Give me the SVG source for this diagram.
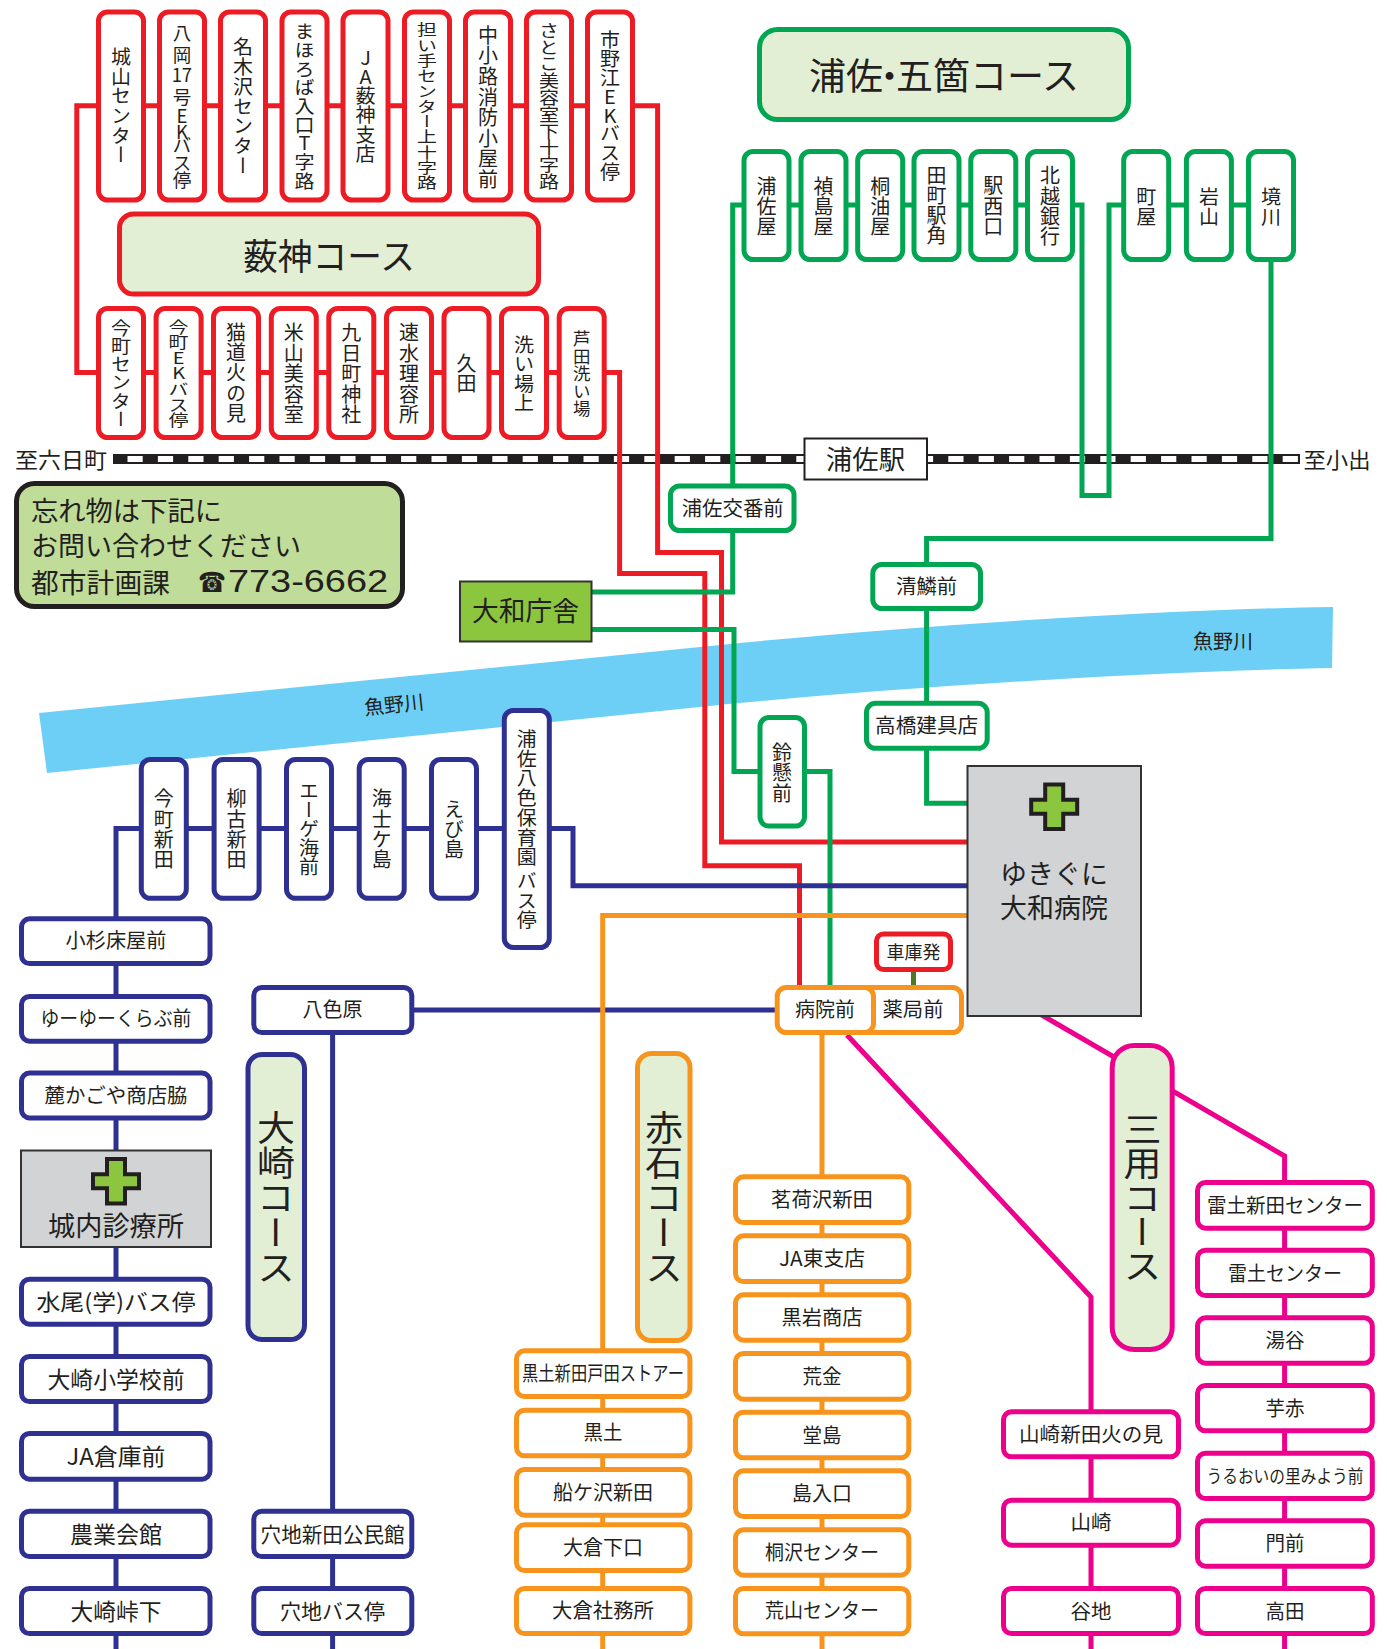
<svg xmlns="http://www.w3.org/2000/svg" width="1387" height="1649" viewBox="0 0 1387 1649">
<style>
text{font-family:"Noto Sans CJK JP","Noto Sans CJK SC",sans-serif;fill:#231f20;text-anchor:middle;dominant-baseline:central;font-size:20px;transform:translateY(-1.5px)}
.v{writing-mode:vertical-rl;text-orientation:upright;font-size:20px;transform:none}
.t{font-size:36px}
.c{fill:none;stroke-width:5;stroke-linejoin:miter}
.b{fill:#fff;stroke-width:5}
.r{stroke:#ed1c24}.g{stroke:#00a651}.n{stroke:#2e3192}.o{stroke:#f7941d}.m{stroke:#ec008c}
.h{fill:#e2efd4;stroke-width:5}
.p{fill:#d1d3d4;stroke:#333;stroke-width:2}
.x{fill:#8cc63f;stroke:#231f20;stroke-width:4}
</style>
<g id="river"><path d="M39 713L680 649C860 630 1131 610 1333 607L1332 668C1131 672 860 690 680 709L47 773Z" fill="#6dcff6"/>
<g transform="rotate(-6 394 705)"><text x="394" y="705" textLength="60" lengthAdjust="spacingAndGlyphs">魚野川</text></g>
<text x="1223" y="642" textLength="60" lengthAdjust="spacingAndGlyphs">魚野川</text></g>
<g id="railway"><line x1="113" y1="459" x2="1300" y2="459" stroke="#231f20" stroke-width="10"/><line x1="127.5" y1="459" x2="1299" y2="459" stroke="#fff" stroke-width="6" stroke-dasharray="15.2 15.2"/>
<text x="61" y="459" style="font-size:22px" textLength="92" lengthAdjust="spacingAndGlyphs">至六日町</text>
<text x="1337" y="459" style="font-size:22px" textLength="67" lengthAdjust="spacingAndGlyphs">至小出</text></g>
<g id="connectors">
<path class="c r" d="M100 372.6H76.8V105.7H657.6V552.6H721.5V842H967"/>
<path class="c r" d="M76.8 372.6H619.6V573.5H704.8V865.7H799.5V985"/>
<path class="c g" d="M1271 205H1109V495.5H1082V205H732.7V592H592"/>
<path class="c g" d="M592 629.4H734V771.4H830V985"/>
<path class="c g" d="M1271 262V538.4H926.6V803.3H967"/>
<path class="c n" d="M116 1649V828.6H573V885.7H967"/>
<path class="c n" d="M414 1010H775"/>
<path class="c n" d="M332.6 1035V1649"/>
<path class="c o" d="M967 915.5H602.7V1649"/>
<path class="c o" d="M822 1035V1649"/>
<path class="c m" d="M1040 1014L1284.6 1156V1649"/>
<path class="c m" d="M847 1035L1091 1297V1649"/>
<path class="c" stroke="#4f7a1f" d="M913.5 970V985"/>
</g>
<g id="st-jo"><rect class="b r" x="98.5" y="12" width="45" height="188" rx="9"/><text class="v" x="121" y="105.7" textLength="118" lengthAdjust="spacingAndGlyphs">城山センター</text></g>
<g id="st-yaoka"><rect class="b r" x="159.5" y="12" width="45" height="188" rx="9"/><text x="182 182 177 187 182 182 182 182 182 182" y="33 55 75 75 97 116 132 145 163 180" style="font-size:18.5px">八岡17号EKバス停</text></g>
<g id="st-nagi"><rect class="b r" x="220.5" y="12" width="45" height="188" rx="9"/><text class="v" x="243" y="106" textLength="139" lengthAdjust="spacingAndGlyphs">名木沢センター</text></g>
<g id="st-maho"><rect class="b r" x="282" y="12" width="45" height="188" rx="9"/><text class="v" x="304.5" y="106" textLength="168" lengthAdjust="spacingAndGlyphs">まほろば入口T字路</text></g>
<g id="st-ja"><rect class="b r" x="343" y="12" width="45" height="188" rx="9"/><text class="v" x="365.5" y="105.5" textLength="115" lengthAdjust="spacingAndGlyphs">JA薮神支店</text></g>
<g id="st-nin"><rect class="b r" x="404.5" y="12" width="45" height="188" rx="9"/><text class="v" x="427" y="106" textLength="168" lengthAdjust="spacingAndGlyphs">担い手センター上十字路</text></g>
<g id="st-naka"><rect class="b r" x="465.5" y="12" width="45" height="188" rx="9"/><text class="v" x="488" y="107" textLength="165" lengthAdjust="spacingAndGlyphs">中小路消防小屋前</text></g>
<g id="st-sato"><rect class="b r" x="526.5" y="12" width="45" height="188" rx="9"/><text class="v" x="549" y="106" textLength="168" lengthAdjust="spacingAndGlyphs">さとこ美容室下十字路</text></g>
<g id="st-ichi"><rect class="b r" x="587.5" y="12" width="45" height="188" rx="9"/><text class="v" x="610" y="106" textLength="151" lengthAdjust="spacingAndGlyphs">市野江EKバス停</text></g>
<g id="title-yabukami"><rect class="h r" x="119.5" y="214" width="419" height="80" rx="14"/><text class="t" x="329" y="255" textLength="172" lengthAdjust="spacingAndGlyphs">薮神コース</text></g>
<g id="st-ima1"><rect class="b r" x="98.5" y="308.5" width="45" height="129" rx="9"/><text class="v" x="121" y="373.5" textLength="109" lengthAdjust="spacingAndGlyphs">今町センター</text></g>
<g id="st-ima2"><rect class="b r" x="156.1" y="308.5" width="45" height="129" rx="9"/><text class="v" x="178.6" y="373.5" textLength="109" lengthAdjust="spacingAndGlyphs">今町EKバス停</text></g>
<g id="st-neko"><rect class="b r" x="213.5" y="308.5" width="45" height="129" rx="9"/><text class="v" x="236" y="372.7" textLength="101" lengthAdjust="spacingAndGlyphs">猫道火の見</text></g>
<g id="st-yone"><rect class="b r" x="271.3" y="308.5" width="45" height="129" rx="9"/><text class="v" x="293.8" y="373.5" textLength="102" lengthAdjust="spacingAndGlyphs">米山美容室</text></g>
<g id="st-kokono"><rect class="b r" x="328.8" y="308.5" width="45" height="129" rx="9"/><text class="v" x="351.3" y="373.5" textLength="102" lengthAdjust="spacingAndGlyphs">九日町神社</text></g>
<g id="st-haya"><rect class="b r" x="386.5" y="308.5" width="45" height="129" rx="9"/><text class="v" x="409" y="373.5" textLength="102" lengthAdjust="spacingAndGlyphs">速水理容所</text></g>
<g id="st-kuta"><rect class="b r" x="444" y="308.5" width="45" height="129" rx="9"/><text class="v" x="466.5" y="373" textLength="40" lengthAdjust="spacingAndGlyphs">久田</text></g>
<g id="st-arai"><rect class="b r" x="501.5" y="308.5" width="45" height="129" rx="9"/><text class="v" x="524" y="373.7" textLength="77" lengthAdjust="spacingAndGlyphs">洗い場上</text></g>
<g id="st-ashi"><rect class="b r" x="559.2" y="308.5" width="45" height="129" rx="9"/><text class="v" x="581.7" y="373.5" style="font-size:17.5px" textLength="87" lengthAdjust="spacingAndGlyphs">芦田洗い場</text></g>
<g id="notice"><rect x="16.5" y="483.5" width="386" height="123" rx="18" fill="#bfdc98" stroke="#231f20" stroke-width="5"/>
<text x="126.5" y="511" style="font-size:27px" textLength="191" lengthAdjust="spacingAndGlyphs">忘れ物は下記に</text>
<text x="166" y="545.5" style="font-size:27px" textLength="270" lengthAdjust="spacingAndGlyphs">お問い合わせください</text>
<text x="100.5" y="582.5" style="font-size:27px" textLength="139" lengthAdjust="spacingAndGlyphs">都市計画課</text>
<text x="212" y="584" style="font-size:28px;font-family:'DejaVu Sans',sans-serif" textLength="28" lengthAdjust="spacingAndGlyphs">☎</text>
<text x="308" y="582.5" style="font-size:31px;font-family:'Liberation Sans',sans-serif" textLength="160" lengthAdjust="spacingAndGlyphs">773-6662</text></g>
<g id="station"><rect x="804.5" y="438.5" width="122.5" height="41" fill="#fff" stroke="#231f20" stroke-width="2"/><text x="865.5" y="458.5" style="font-size:26px" textLength="79" lengthAdjust="spacingAndGlyphs">浦佐駅</text></g>
<g id="yamato-office"><rect x="460" y="581.5" width="131.5" height="60" fill="#8cc63f" stroke="#333" stroke-width="2"/><text x="525.5" y="611" style="font-size:27px" textLength="107" lengthAdjust="spacingAndGlyphs">大和庁舎</text></g>
<g id="title-urasa"><rect class="h g" x="759.5" y="29.5" width="369" height="90" rx="18"/><text class="t" x="944" y="75.5" style="font-size:37px">浦<tspan style="letter-spacing:-12px">佐・</tspan>五箇コース</text></g>
<g id="st-u1"><rect class="b g" x="744" y="151.5" width="45" height="108" rx="9"/><text class="v" x="766.6" y="206.3" textLength="61" lengthAdjust="spacingAndGlyphs">浦佐屋</text></g>
<g id="st-u2"><rect class="b g" x="801" y="151.5" width="45" height="108" rx="9"/><text class="v" x="823.4" y="206.3" textLength="61" lengthAdjust="spacingAndGlyphs">禎島屋</text></g>
<g id="st-u3"><rect class="b g" x="857.7" y="151.5" width="45" height="108" rx="9"/><text class="v" x="880.2" y="206.3" textLength="61" lengthAdjust="spacingAndGlyphs">桐油屋</text></g>
<g id="st-u4"><rect class="b g" x="914" y="151.5" width="45" height="108" rx="9"/><text class="v" x="936.5" y="205.3" textLength="81" lengthAdjust="spacingAndGlyphs">田町駅角</text></g>
<g id="st-u5"><rect class="b g" x="970.8" y="151.5" width="45" height="108" rx="9"/><text class="v" x="993.3" y="206" textLength="61" lengthAdjust="spacingAndGlyphs">駅西口</text></g>
<g id="st-u6"><rect class="b g" x="1027.5" y="151.5" width="45" height="108" rx="9"/><text class="v" x="1050" y="206" textLength="81" lengthAdjust="spacingAndGlyphs">北越銀行</text></g>
<g id="st-u7"><rect class="b g" x="1123.7" y="151.5" width="45" height="108" rx="9"/><text class="v" x="1146.2" y="206.4" textLength="39" lengthAdjust="spacingAndGlyphs">町屋</text></g>
<g id="st-u8"><rect class="b g" x="1186.4" y="151.5" width="45" height="108" rx="9"/><text class="v" x="1208.9" y="206.4" textLength="39" lengthAdjust="spacingAndGlyphs">岩山</text></g>
<g id="st-u9"><rect class="b g" x="1248.5" y="151.5" width="45" height="108" rx="9"/><text class="v" x="1271" y="206.4" textLength="39" lengthAdjust="spacingAndGlyphs">境川</text></g>
<g id="st-koban"><rect class="b g" x="670.5" y="486" width="123.5" height="44.5" rx="9"/><text x="732.7" y="509" textLength="102" lengthAdjust="spacingAndGlyphs">浦佐交番前</text></g>
<g id="st-seirin"><rect class="b g" x="872.8" y="564.5" width="107.7" height="44" rx="9"/><text x="926.6" y="587" textLength="61" lengthAdjust="spacingAndGlyphs">清鱗前</text></g>
<g id="st-takahashi"><rect class="b g" x="866.5" y="703.3" width="120.7" height="45" rx="9"/><text x="926.6" y="725.5" textLength="103" lengthAdjust="spacingAndGlyphs">高橋建具店</text></g>
<g id="st-suzu"><rect class="b g" x="760" y="717.5" width="44.5" height="108.6" rx="9"/><text class="v" x="782" y="772.5" textLength="61" lengthAdjust="spacingAndGlyphs">鈴懸前</text></g>
<g id="hospital"><rect class="p" x="967.5" y="766" width="173.5" height="250"/><path class="x" d="M1045.2 784.4h18v15.3h14v14h-14v15.3h-18v-15.3h-14v-14h14z"/>
<text style="font-size:27px"><tspan x="1054" y="873.5">ゆきぐに</tspan><tspan x="1054" y="907">大和病院</tspan></text></g>
<g id="st-ima3"><rect class="b n" x="141.3" y="759.5" width="45" height="138.8" rx="9"/><text class="v" x="163.8" y="829" textLength="81" lengthAdjust="spacingAndGlyphs">今町新田</text></g>
<g id="st-yana"><rect class="b n" x="214.1" y="759.5" width="45" height="138.8" rx="9"/><text class="v" x="236.6" y="829" textLength="81" lengthAdjust="spacingAndGlyphs">柳古新田</text></g>
<g id="st-aege"><rect class="b n" x="286.5" y="759.5" width="45" height="138.8" rx="9"/><text class="v" x="309" y="829" textLength="95" lengthAdjust="spacingAndGlyphs">エーゲ海前</text></g>
<g id="st-ama"><rect class="b n" x="359.2" y="759.5" width="45" height="138.8" rx="9"/><text class="v" x="381.7" y="829" textLength="81" lengthAdjust="spacingAndGlyphs">海士ケ島</text></g>
<g id="st-ebi"><rect class="b n" x="431.5" y="759.5" width="45" height="138.8" rx="9"/><text class="v" x="454" y="829.3" textLength="60" lengthAdjust="spacingAndGlyphs">えび島</text></g>
<g id="st-hoiku"><rect class="b n" x="504.3" y="710.5" width="45" height="237" rx="9"/><text class="v" x="526.8" y="829.2" textLength="201" lengthAdjust="spacingAndGlyphs">浦佐八色保育園&#8201;バス停</text></g>
<g id="st-kosugi"><rect class="b n" x="21.5" y="918.8" width="188.5" height="44.7" rx="8"/><text x="116" y="941" textLength="101" lengthAdjust="spacingAndGlyphs">小杉床屋前</text></g>
<g id="st-yuyu"><rect class="b n" x="21.5" y="996.5" width="188.5" height="44.7" rx="8"/><text x="116" y="1018.5" textLength="151" lengthAdjust="spacingAndGlyphs">ゆーゆーくらぶ前</text></g>
<g id="st-fumoto"><rect class="b n" x="21.5" y="1073.1" width="188.5" height="44.8" rx="8"/><text x="116" y="1096" textLength="143" lengthAdjust="spacingAndGlyphs">麓かごや商店脇</text></g>
<g id="clinic"><rect class="p" x="21" y="1150.5" width="190" height="96.5"/><path class="x" d="M107 1159h18v15.3h14v14h-14v15.3h-18v-15.3h-14v-14h14z"/><text x="116" y="1226" style="font-size:27px" textLength="136" lengthAdjust="spacingAndGlyphs">城内診療所</text></g>
<g id="st-mizuo"><rect class="b n" x="21.5" y="1279.2" width="188.5" height="45" rx="8"/><text x="116" y="1301" style="font-size:22px" textLength="159" lengthAdjust="spacingAndGlyphs">水尾(学)バス停</text></g>
<g id="st-osho"><rect class="b n" x="21.5" y="1356.5" width="188.5" height="45" rx="8"/><text x="116" y="1379" style="font-size:23px" textLength="137" lengthAdjust="spacingAndGlyphs">大崎小学校前</text></g>
<g id="st-jasoko"><rect class="b n" x="21.5" y="1433.5" width="188.5" height="45.7" rx="8"/><text x="116" y="1456.5" style="font-size:23px" textLength="99" lengthAdjust="spacingAndGlyphs">JA倉庫前</text></g>
<g id="st-nogyo"><rect class="b n" x="21.5" y="1511.2" width="188.5" height="45.3" rx="8"/><text x="116" y="1534" style="font-size:23px" textLength="92" lengthAdjust="spacingAndGlyphs">農業会館</text></g>
<g id="st-toge"><rect class="b n" x="21.5" y="1588.5" width="188.5" height="45" rx="8"/><text x="116" y="1611" style="font-size:23px" textLength="91" lengthAdjust="spacingAndGlyphs">大崎峠下</text></g>
<g id="st-yairo"><rect class="b n" x="253.8" y="987.5" width="158" height="45" rx="8"/><text x="332.6" y="1010" textLength="60" lengthAdjust="spacingAndGlyphs">八色原</text></g>
<g id="title-osaki"><rect class="h n" x="248" y="1054.5" width="56.5" height="285" rx="14"/><text class="v t" x="276" y="1198" style="font-size:38px" textLength="175" lengthAdjust="spacingAndGlyphs">大崎コース</text></g>
<g id="st-anachi1"><rect class="b n" x="253.8" y="1511.2" width="158" height="45.3" rx="8"/><text x="332.6" y="1534" style="font-size:21px" textLength="144" lengthAdjust="spacingAndGlyphs">穴地新田公民館</text></g>
<g id="st-anachi2"><rect class="b n" x="253.8" y="1588.5" width="158" height="45" rx="8"/><text x="332.6" y="1611" style="font-size:21px" textLength="105" lengthAdjust="spacingAndGlyphs">穴地バス停</text></g>
<g id="title-akaishi"><rect class="h o" x="637.5" y="1053.5" width="52.5" height="287" rx="14"/><text class="v t" x="664" y="1198" style="font-size:38px" textLength="175" lengthAdjust="spacingAndGlyphs">赤石コース</text></g>
<g id="st-k1"><rect class="b o" x="516.5" y="1350.8" width="173.4" height="45.7" rx="8"/><text x="603" y="1374" textLength="162" lengthAdjust="spacingAndGlyphs">黒土新田戸田ストアー</text></g>
<g id="st-k2"><rect class="b o" x="516.5" y="1410.2" width="173.4" height="45.6" rx="8"/><text x="603" y="1433" textLength="39" lengthAdjust="spacingAndGlyphs">黒土</text></g>
<g id="st-k3"><rect class="b o" x="516.5" y="1469.5" width="173.4" height="45.7" rx="8"/><text x="603" y="1492.5" textLength="100" lengthAdjust="spacingAndGlyphs">船ケ沢新田</text></g>
<g id="st-k4"><rect class="b o" x="516.5" y="1524.8" width="173.4" height="45.7" rx="8"/><text x="603" y="1548" textLength="80" lengthAdjust="spacingAndGlyphs">大倉下口</text></g>
<g id="st-k5"><rect class="b o" x="516.5" y="1588.5" width="173.4" height="45" rx="8"/><text x="603" y="1611" textLength="102" lengthAdjust="spacingAndGlyphs">大倉社務所</text></g>
<g id="st-yakkyoku"><rect class="b o" x="860" y="987.5" width="101.5" height="45" rx="9"/><text x="913" y="1010" textLength="61" lengthAdjust="spacingAndGlyphs">薬局前</text></g>
<g id="st-byoin"><rect class="b o" x="777.2" y="987.5" width="96.3" height="45" rx="9"/><text x="825" y="1010" textLength="60" lengthAdjust="spacingAndGlyphs">病院前</text></g>
<g id="st-shako"><rect class="b r" x="876.5" y="934" width="74" height="35.5" rx="7"/><text x="913.6" y="952" style="font-size:18px" textLength="54" lengthAdjust="spacingAndGlyphs">車庫発</text></g>
<g id="st-o1"><rect class="b o" x="735.5" y="1176.8" width="173.3" height="45.7" rx="8"/><text x="822" y="1200" textLength="102" lengthAdjust="spacingAndGlyphs">茗荷沢新田</text></g>
<g id="st-o2"><rect class="b o" x="735.5" y="1235.8" width="173.3" height="45.7" rx="8"/><text x="822" y="1258.5" textLength="86" lengthAdjust="spacingAndGlyphs">JA東支店</text></g>
<g id="st-o3"><rect class="b o" x="735.5" y="1294.8" width="173.3" height="45.4" rx="8"/><text x="822" y="1317.5" textLength="81" lengthAdjust="spacingAndGlyphs">黒岩商店</text></g>
<g id="st-o4"><rect class="b o" x="735.5" y="1353.5" width="173.3" height="45.7" rx="8"/><text x="822" y="1376.5" textLength="39" lengthAdjust="spacingAndGlyphs">荒金</text></g>
<g id="st-o5"><rect class="b o" x="735.5" y="1412.2" width="173.3" height="45.6" rx="8"/><text x="822" y="1435.5" textLength="39" lengthAdjust="spacingAndGlyphs">堂島</text></g>
<g id="st-o6"><rect class="b o" x="735.5" y="1470.8" width="173.3" height="45.7" rx="8"/><text x="822" y="1494" textLength="60" lengthAdjust="spacingAndGlyphs">島入口</text></g>
<g id="st-o7"><rect class="b o" x="735.5" y="1529.8" width="173.3" height="45.4" rx="8"/><text x="822" y="1552.5" textLength="114" lengthAdjust="spacingAndGlyphs">桐沢センター</text></g>
<g id="st-o8"><rect class="b o" x="735.5" y="1588.5" width="173.3" height="45.3" rx="8"/><text x="822" y="1611" textLength="114" lengthAdjust="spacingAndGlyphs">荒山センター</text></g>
<g id="title-sanyo"><rect class="h m" x="1112.2" y="1045.4" width="60" height="304" rx="22"/><text class="v t" x="1142.6" y="1197.5" style="font-size:38px" textLength="172" lengthAdjust="spacingAndGlyphs">三用コース</text></g>
<g id="st-m1"><rect class="b m" x="1003.5" y="1411.8" width="175" height="45" rx="8"/><text x="1091" y="1434.5" textLength="144" lengthAdjust="spacingAndGlyphs">山崎新田火の見</text></g>
<g id="st-m2"><rect class="b m" x="1003.5" y="1500.2" width="175" height="45" rx="8"/><text x="1091" y="1523" textLength="41" lengthAdjust="spacingAndGlyphs">山崎</text></g>
<g id="st-m3"><rect class="b m" x="1003.5" y="1588.5" width="175" height="45" rx="8"/><text x="1091" y="1611.5" textLength="41" lengthAdjust="spacingAndGlyphs">谷地</text></g>
<g id="st-r1"><rect class="b m" x="1197.5" y="1182.5" width="174.8" height="45.7" rx="8"/><text x="1285" y="1206" textLength="156" lengthAdjust="spacingAndGlyphs">雷土新田センター</text></g>
<g id="st-r2"><rect class="b m" x="1197.5" y="1250.2" width="174.8" height="45.3" rx="8"/><text x="1285" y="1273.5" textLength="114" lengthAdjust="spacingAndGlyphs">雷土センター</text></g>
<g id="st-r3"><rect class="b m" x="1197.5" y="1317.8" width="174.8" height="45.4" rx="8"/><text x="1285" y="1341" textLength="39" lengthAdjust="spacingAndGlyphs">湯谷</text></g>
<g id="st-r4"><rect class="b m" x="1197.5" y="1385.5" width="174.8" height="45.3" rx="8"/><text x="1285" y="1408.5" textLength="39" lengthAdjust="spacingAndGlyphs">芋赤</text></g>
<g id="st-r5"><rect class="b m" x="1197.5" y="1453.2" width="174.8" height="45.3" rx="8"/><text x="1285" y="1476" style="font-size:18px" textLength="157" lengthAdjust="spacingAndGlyphs">うるおいの里みよう前</text></g>
<g id="st-r6"><rect class="b m" x="1197.5" y="1520.8" width="174.8" height="45.4" rx="8"/><text x="1285" y="1544" textLength="39" lengthAdjust="spacingAndGlyphs">門前</text></g>
<g id="st-r7"><rect class="b m" x="1197.5" y="1588.5" width="174.8" height="45" rx="8"/><text x="1285" y="1611.5" textLength="39" lengthAdjust="spacingAndGlyphs">高田</text></g>
</svg>
